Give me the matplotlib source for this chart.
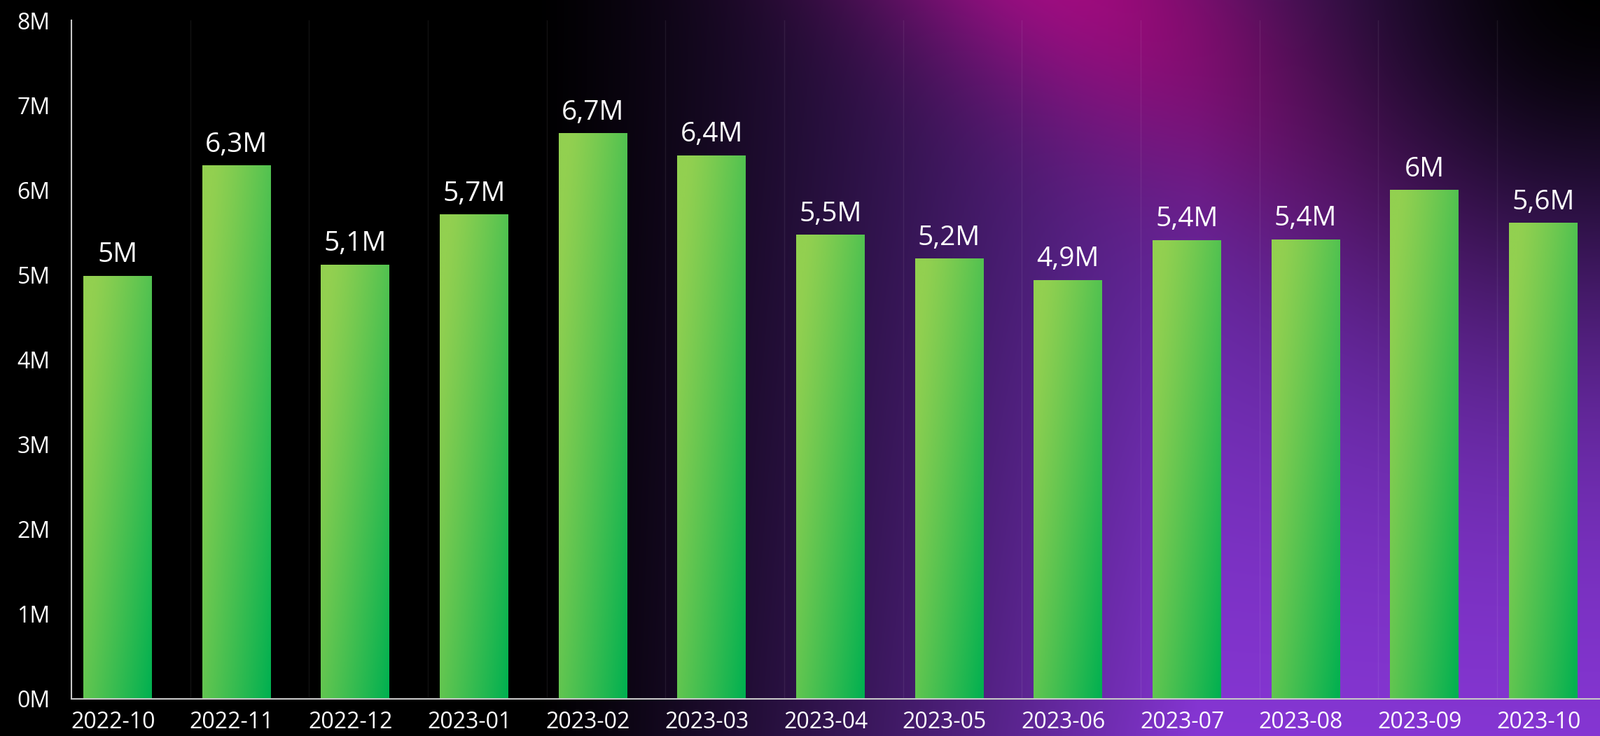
import numpy as np
import matplotlib
matplotlib.use("Agg")
import matplotlib.pyplot as plt

months = ["2022-10", "2022-11", "2022-12", "2023-01", "2023-02", "2023-03", "2023-04",
          "2023-05", "2023-06", "2023-07", "2023-08", "2023-09", "2023-10"]
# values in millions
views = [4.99, 6.29, 5.12, 5.71, 6.67, 6.41, 5.47, 5.19, 4.94, 5.41, 5.42, 6.0, 5.61]
y_ticks = [0, 1, 2, 3, 4, 5, 6, 7, 8]

plt.rcParams['font.family'] = ['Open Sans', 'DejaVu Sans']

W, H = 2285, 1051
fig = plt.figure(figsize=(W / 100, H / 100), dpi=100)

# background: black on the left, purple to the right, magenta glow at the top
X, Y = np.meshgrid(np.arange(W), np.arange(H))
purple = np.array([0x86, 0x36, 0xd4]) / 255
magenta = np.array([0xb4, 0x0c, 0x8c]) / 255
a = np.clip((X - 760) / 950, 0, 1) ** 1.2 * (0.72 + 0.28 * Y / H)
d = np.hypot(X - W, Y + 40)
dark = 1 - np.exp(-(d / 480) ** 2)
ang = np.deg2rad(34)
dx, dy = X - 1540, Y + 40
along = dx * np.cos(ang) + dy * np.sin(ang)
across = -dx * np.sin(ang) + dy * np.cos(ang)
m = np.exp(-(along / 480) ** 2 - (across / 190) ** 2) * 0.95
bg = (purple[None, None, :] * (a * (1 - m))[..., None] + magenta[None, None, :] * m[..., None])
bg = bg * dark[..., None]
bg = np.clip(bg, 0, 1)

bgax = fig.add_axes([0, 0, 1, 1], zorder=0)
bgax.imshow(bg, aspect='auto', extent=[0, 1, 0, 1], origin='upper')
bgax.axis('off')

left = 102 / W
bottom = 1 - 998 / H
top = 1 - 29 / H
ax = fig.add_axes([left, bottom, 1 - left, top - bottom], zorder=1)
ax.set_facecolor('none')

cat_w = 169.65
x = np.arange(len(months))
bar_off = 17 / cat_w
bar_w = 98 / cat_w

# green diagonal gradient for the bars
light = np.array([0x92, 0xd0, 0x50]) / 255
deep = np.array([0x00, 0xb0, 0x50]) / 255
u, v = np.meshgrid(np.linspace(0, 1, 60), np.linspace(0, 1, 300))
t = np.clip(0.6 * u + 0.5 * v - 0.1, 0, 1) ** 1.2
grad = light[None, None, :] * (1 - t[..., None]) + deep[None, None, :] * t[..., None]

bars = ax.bar(x + bar_off, views, width=bar_w, align='edge', color='none', zorder=2)
for b in bars:
    x0, w, h = b.get_x(), b.get_width(), b.get_height()
    im = ax.imshow(grad, extent=[x0, x0 + w, 0, h], aspect='auto', origin='upper', zorder=2)
    im.set_clip_path(b)

for i, val in enumerate(views):
    txt = f"{val:.1f}".rstrip('0').rstrip('.').replace('.', ',') + "M"
    ax.annotate(txt, (x[i] + bar_off + bar_w / 2, val), xytext=(0, 14), textcoords='offset points',
                ha='center', va='baseline', color='white', fontsize=28, zorder=3)

ax.set_xlim(0, (W - 102) / cat_w)
ax.set_ylim(0, 8)

for b in range(1, len(months)):
    ax.axvline(b, color='white', alpha=0.07, lw=1, zorder=1)

ax.set_xticks(x + 0.35)
ax.set_xticklabels(months)
ax.set_yticks(y_ticks)
ax.set_yticklabels([f"{n}M" for n in y_ticks])
ax.tick_params(axis='both', length=0, colors='white', labelsize=23)
ax.tick_params(axis='y', pad=22)
ax.tick_params(axis='x', pad=12)

for s in ['top', 'right']:
    ax.spines[s].set_visible(False)
for s in ['left', 'bottom']:
    ax.spines[s].set_color('#c8c8c8')
    ax.spines[s].set_linewidth(1.5)

fig.savefig("out.png", dpi=100)
